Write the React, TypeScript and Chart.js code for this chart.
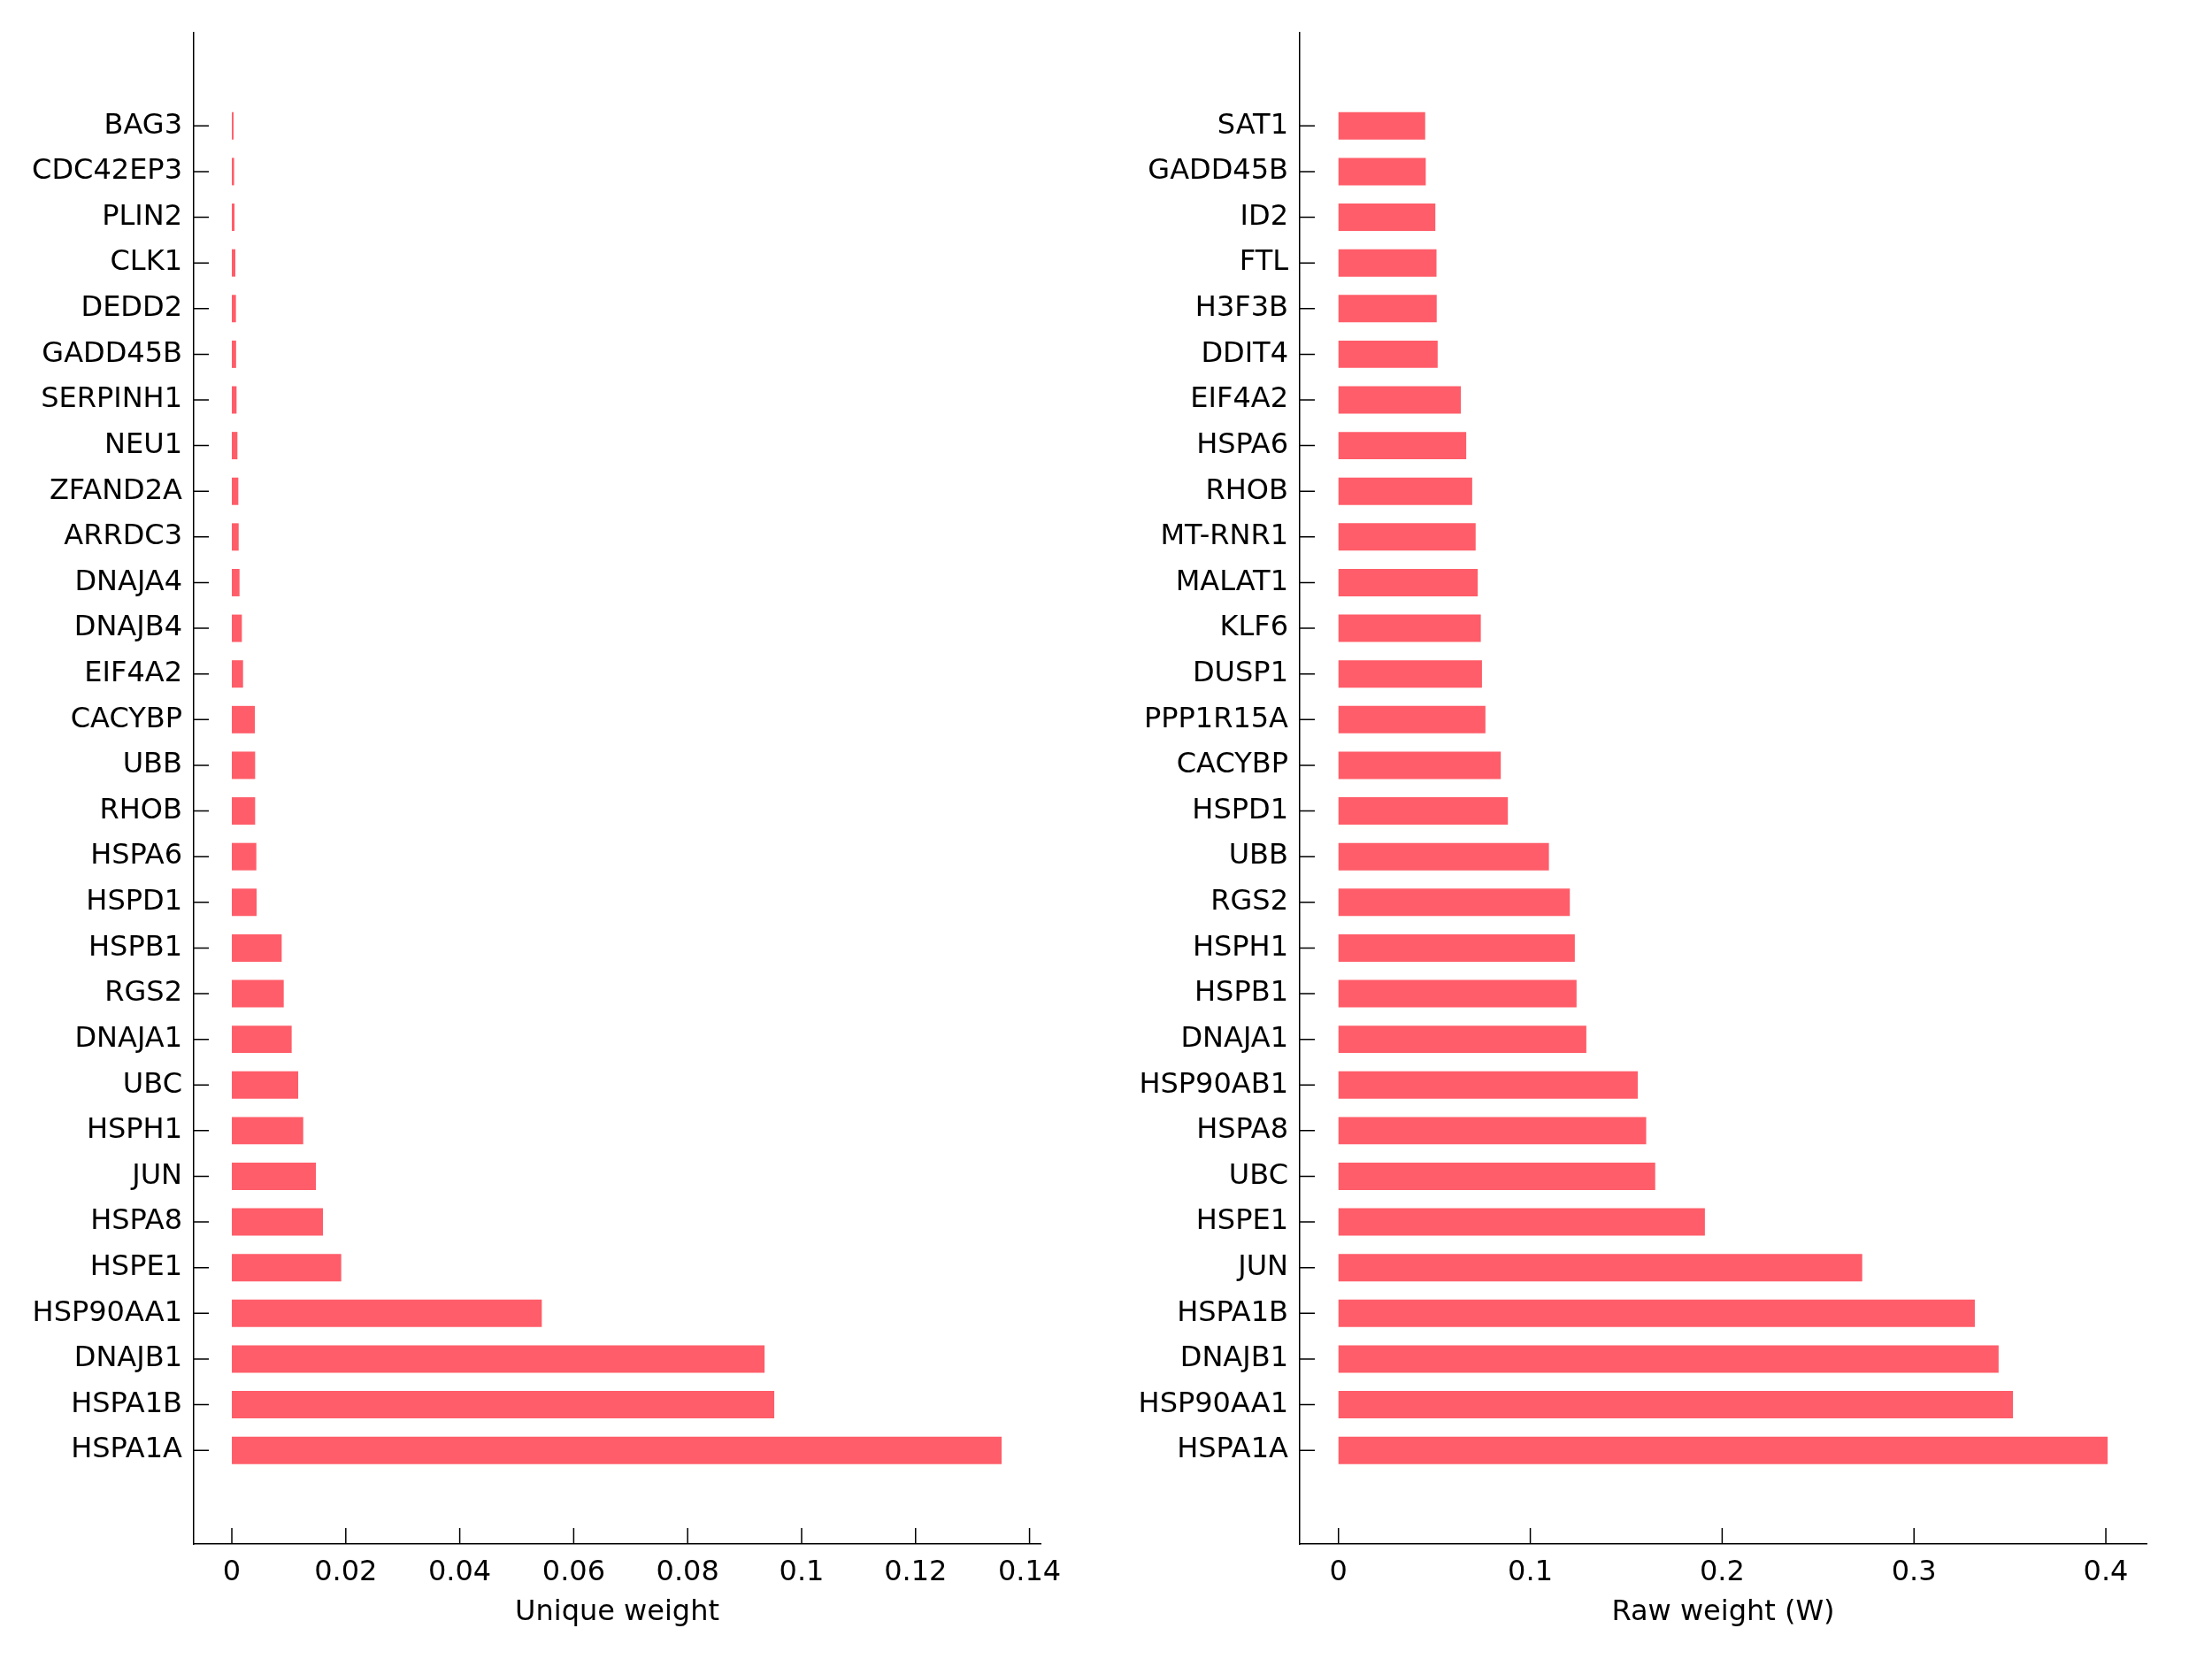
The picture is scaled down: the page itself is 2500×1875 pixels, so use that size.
import React, { useEffect, useRef } from 'react';
import { Chart, registerables } from 'chart.js';

Chart.register(...registerables);

// ---- Data (top to bottom as shown) ----
const uniqueGenes = [
  'BAG3', 'CDC42EP3', 'PLIN2', 'CLK1', 'DEDD2', 'GADD45B', 'SERPINH1', 'NEU1',
  'ZFAND2A', 'ARRDC3', 'DNAJA4', 'DNAJB4', 'EIF4A2', 'CACYBP', 'UBB', 'RHOB',
  'HSPA6', 'HSPD1', 'HSPB1', 'RGS2', 'DNAJA1', 'UBC', 'HSPH1', 'JUN', 'HSPA8',
  'HSPE1', 'HSP90AA1', 'DNAJB1', 'HSPA1B', 'HSPA1A',
];
const uniqueWeights = [
  0.0003, 0.0004, 0.00047, 0.00062, 0.00072, 0.00075, 0.00083, 0.00098,
  0.00114, 0.0012, 0.00135, 0.00176, 0.00197, 0.00404, 0.00409, 0.00409,
  0.0043, 0.00435, 0.00875, 0.00911, 0.0105, 0.01165, 0.01253, 0.01475, 0.016,
  0.0192, 0.0544, 0.0935, 0.0952, 0.1351,
];

const rawGenes = [
  'SAT1', 'GADD45B', 'ID2', 'FTL', 'H3F3B', 'DDIT4', 'EIF4A2', 'HSPA6', 'RHOB',
  'MT-RNR1', 'MALAT1', 'KLF6', 'DUSP1', 'PPP1R15A', 'CACYBP', 'HSPD1', 'UBB',
  'RGS2', 'HSPH1', 'HSPB1', 'DNAJA1', 'HSP90AB1', 'HSPA8', 'UBC', 'HSPE1', 'JUN',
  'HSPA1B', 'DNAJB1', 'HSP90AA1', 'HSPA1A',
];
const rawWeights = [
  0.0452, 0.0455, 0.0505, 0.0511, 0.0512, 0.0517, 0.0638, 0.0666, 0.0697,
  0.0715, 0.0726, 0.0742, 0.0748, 0.0766, 0.0846, 0.0883, 0.1097,
  0.1206, 0.1232, 0.1241, 0.1292, 0.156, 0.1604, 0.1651, 0.191, 0.273,
  0.3317, 0.3441, 0.3516, 0.4009,
];

const uniqueTicks = [0, 0.02, 0.04, 0.06, 0.08, 0.1, 0.12, 0.14];
const rawTicks = [0, 0.1, 0.2, 0.3, 0.4];
const uniqueRange = [-0.00668, 0.14193];
const rawRange = [-0.02017, 0.4212];
// extra room (in category units) below the first and above the last bar
const catPadBottom = 2.05;
const catPadTop = 2.04;

const BAR_COLOR = '#ff5d69';
const FONT = 'DejaVu Sans';

const inwardTicks = {
  id: 'inwardTicks',
  afterDraw(chart: any) {
    const { ctx, chartArea, scales } = chart;
    ctx.save();
    ctx.strokeStyle = '#000';
    ctx.lineWidth = 1.5;
    ctx.beginPath();
    for (const t of scales.x.ticks) {
      const px = scales.x.getPixelForValue(t.value);
      ctx.moveTo(px, chartArea.bottom);
      ctx.lineTo(px, chartArea.bottom - 18);
    }
    for (const t of scales.y.ticks) {
      const py = scales.y.getPixelForValue(t.value);
      ctx.moveTo(chartArea.left, py);
      ctx.lineTo(chartArea.left + 17, py);
    }
    ctx.stroke();
    ctx.restore();
  },
};

function Panel(props: {
  genes: string[];
  weights: number[];
  ticks: number[];
  range: number[];
  title: string;
  left: number;
}) {
  const ref = useRef<HTMLCanvasElement | null>(null);
  useEffect(() => {
    const { genes, weights, ticks, range, title } = props;
    const n = genes.length;
    const pos = genes.map((_, i) => n - i);
    const chart = new Chart(ref.current as HTMLCanvasElement, {
      type: 'bar',
      data: {
        datasets: [
          {
            data: weights.map((w, i) => ({ x: w, y: pos[i] })),
            backgroundColor: BAR_COLOR,
            borderWidth: 0,
            barPercentage: 0.6,
            categoryPercentage: 1,
          } as any,
        ],
      },
      options: {
        indexAxis: 'y',
        responsive: false,
        animation: false,
        devicePixelRatio: 1,
        layout: { padding: { top: 37, right: 74, left: 0, bottom: 0 } },
        plugins: { legend: { display: false }, tooltip: { enabled: false } },
        scales: {
          x: {
            type: 'linear',
            min: range[0],
            max: range[1],
            afterBuildTicks: (s: any) => {
              s.ticks = ticks.map((v) => ({ value: v }));
            },
            afterFit: (s: any) => {
              s.height = 130;
            },
            grid: { display: false, drawTicks: false, tickLength: 0 },
            border: { display: true, color: '#000', width: 1.5 },
            ticks: {
              color: '#000',
              font: { family: FONT, size: 32 },
              padding: 13,
              maxRotation: 0,
              autoSkip: false,
              callback: (v: any) => String(+Number(v).toFixed(4)),
            },
            title: {
              display: true,
              text: title,
              color: '#000',
              font: { family: FONT, size: 32 },
              padding: { top: 0, bottom: 33 },
            },
          },
          y: {
            type: 'linear',
            min: 1 - catPadBottom,
            max: n + catPadTop,
            offset: false,
            afterBuildTicks: (s: any) => {
              s.ticks = pos.map((v) => ({ value: v }));
            },
            afterFit: (s: any) => {
              s.width = 219;
            },
            grid: { display: false, drawTicks: false, tickLength: 0 },
            border: { display: true, color: '#000', width: 1.5 },
            ticks: {
              color: '#000',
              font: { family: FONT, size: 32 },
              padding: 13,
              autoSkip: false,
              callback: (v: any) => genes[n - Number(v)] ?? '',
            },
          },
        },
      } as any,
      plugins: [inwardTicks],
    });
    return () => chart.destroy();
  }, []);
  return (
    <canvas
      ref={ref}
      width={1250}
      height={1875}
      style={{ position: 'absolute', left: props.left, top: 0, width: 1250, height: 1875 }}
    />
  );
}

export default function App() {
  return (
    <div style={{ position: 'absolute', left: 0, top: 0, width: 2500, height: 1875, background: '#fff' }}>
      <Panel
        genes={uniqueGenes}
        weights={uniqueWeights}
        ticks={uniqueTicks}
        range={uniqueRange}
        title="Unique weight"
        left={0}
      />
      <Panel
        genes={rawGenes}
        weights={rawWeights}
        ticks={rawTicks}
        range={rawRange}
        title="Raw weight (W)"
        left={1250}
      />
    </div>
  );
}
